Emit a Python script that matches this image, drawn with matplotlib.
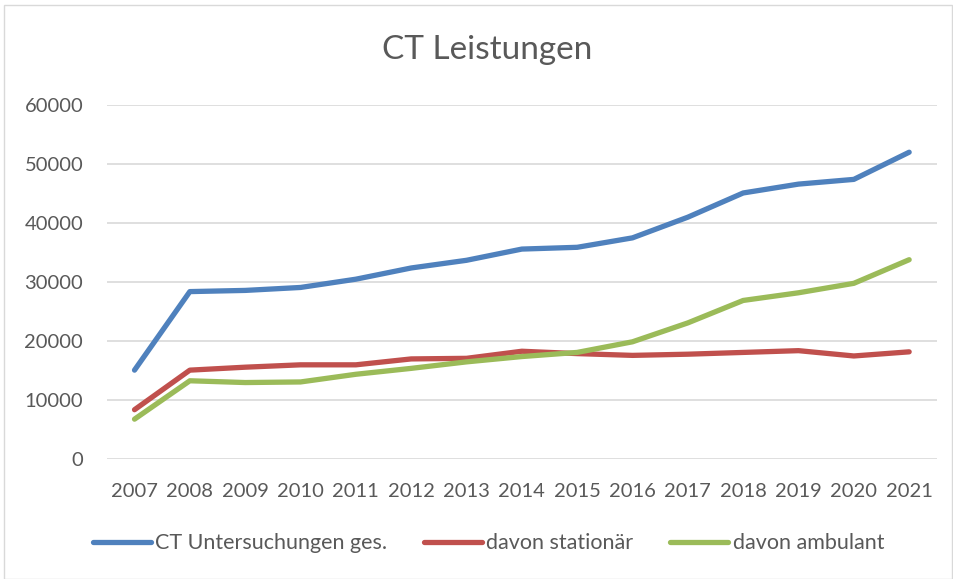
import matplotlib.pyplot as plt
from matplotlib.patches import Rectangle

plt.rcParams['font.family'] = ['Lato', 'DejaVu Sans']

years = ['2007', '2008', '2009', '2010', '2011', '2012', '2013', '2014',
         '2015', '2016', '2017', '2018', '2019', '2020', '2021']
ct_gesamt = [15100, 28400, 28600, 29100, 30500, 32400, 33700, 35600,
             35900, 37500, 41000, 45100, 46600, 47400, 52000]
stationaer = [8400, 15100, 15600, 16000, 16000, 17000, 17100, 18300,
              17900, 17600, 17800, 18100, 18400, 17500, 18200]
ambulant = [6800, 13300, 13000, 13100, 14400, 15400, 16500, 17400,
            18100, 19900, 23100, 26900, 28200, 29800, 33800]

fig = plt.figure(figsize=(9.54, 5.79), dpi=100)
fig.patches.append(Rectangle((0.004, 0.0), 0.994, 0.991, transform=fig.transFigure,
                             fill=False, edgecolor='#d9d9d9', linewidth=1))
ax = fig.add_axes([0.112, 0.2067, 0.870, 0.612])

x = range(len(years))
ax.plot(x, ct_gesamt, color='#4F81BD', lw=3.8, solid_capstyle='round',
        label='CT Untersuchungen ges.')
ax.plot(x, stationaer, color='#C0504D', lw=3.8, solid_capstyle='round',
        label='davon stationär')
ax.plot(x, ambulant, color='#9BBB59', lw=3.8, solid_capstyle='round',
        label='davon ambulant')

ax.set_xlim(-0.5, len(years) - 0.5)
ax.set_ylim(0, 60000)
ax.set_yticks(range(0, 60001, 10000))
ax.set_xticks(list(x))
ax.set_xticklabels(years)
ax.grid(axis='y', color='#d9d9d9', lw=1.2)
ax.set_axisbelow(True)
for s in ax.spines.values():
    s.set_visible(False)
ax.tick_params(length=0, colors='#595959', labelsize=14.5)
ax.tick_params(axis='x', pad=17)
ax.tick_params(axis='y', pad=17)

fig.text(0.511, 0.914, 'CT Leistungen', ha='center', va='center',
         fontsize=24, color='#595959')

fig.legend(loc='center', bbox_to_anchor=(0.512, 0.062), ncol=3, frameon=False,
           fontsize=15.5, labelcolor='#595959', handlelength=2.7,
           handletextpad=0.2, columnspacing=1.7)

fig.savefig('out.png', dpi=100)
